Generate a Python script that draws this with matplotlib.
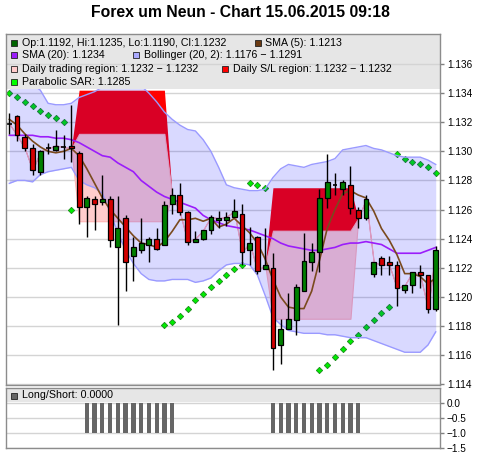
import numpy as np
import matplotlib
matplotlib.use("Agg")
import matplotlib.pyplot as plt
from matplotlib.patches import Rectangle
from matplotlib.ticker import FuncFormatter

plt.rcParams['font.family'] = ['Liberation Sans', 'DejaVu Sans']

TITLE = "Forex um Neun - Chart 15.06.2015 09:18"

# EUR/USD candles (oldest first)
opens = [1.1319, 1.1324, 1.1310, 1.1302, 1.1286, 1.1302, 1.1301, 1.1303, 1.1304, 1.1299,
         1.1262, 1.1267, 1.1265, 1.1267, 1.1234, 1.1254, 1.1228, 1.1232, 1.1236, 1.1240,
         1.1236, 1.1264, 1.1270, 1.1258, 1.1238, 1.1240, 1.1246, 1.1253, 1.1253, 1.1255,
         1.1257, 1.1232, 1.1241, 1.1219, 1.1220, 1.1167, 1.1178, 1.1184, 1.1204, 1.1224,
         1.1231, 1.1268, 1.1277, 1.1274, 1.1277, 1.1260, 1.1254, 1.1216, 1.1227, 1.1224,
         1.1222, 1.1205, 1.1208, 1.1217, 1.1215, 1.1192]
highs = [1.1326, 1.1325, 1.1312, 1.1305, 1.1301, 1.1306, 1.1315, 1.1311, 1.1332, 1.1300,
         1.1269, 1.1269, 1.1284, 1.1269, 1.1269, 1.1256, 1.1241, 1.1254, 1.1241, 1.1247,
         1.1266, 1.1275, 1.1278, 1.1259, 1.1245, 1.1246, 1.1256, 1.1259, 1.1258, 1.1267,
         1.1264, 1.1248, 1.1242, 1.1247, 1.1230, 1.1185, 1.1203, 1.1209, 1.1244, 1.1237,
         1.1274, 1.1298, 1.1285, 1.1280, 1.1290, 1.1262, 1.1270, 1.1224, 1.1228, 1.1228,
         1.1225, 1.1208, 1.1217, 1.1222, 1.1215, 1.1235]
lows = [1.1312, 1.1307, 1.1300, 1.1284, 1.1284, 1.1298, 1.1300, 1.1295, 1.1293, 1.1250,
        1.1241, 1.1246, 1.1263, 1.1234, 1.1181, 1.1204, 1.1211, 1.1230, 1.1224, 1.1232,
        1.1236, 1.1257, 1.1256, 1.1236, 1.1238, 1.1239, 1.1243, 1.1247, 1.1249, 1.1255,
        1.1222, 1.1222, 1.1216, 1.1219, 1.1150, 1.1154, 1.1178, 1.1174, 1.1204, 1.1218,
        1.1217, 1.1261, 1.1270, 1.1270, 1.1257, 1.1247, 1.1253, 1.1214, 1.1215, 1.1215,
        1.1194, 1.1203, 1.1203, 1.1206, 1.1189, 1.1190]
closes = [1.1319, 1.1311, 1.1302, 1.1287, 1.1300, 1.1302, 1.1304, 1.1303, 1.1302, 1.1262,
          1.1268, 1.1264, 1.1267, 1.1239, 1.1247, 1.1224, 1.1234, 1.1237, 1.1240, 1.1233,
          1.1263, 1.1270, 1.1258, 1.1238, 1.1240, 1.1246, 1.1255, 1.1254, 1.1255, 1.1259,
          1.1231, 1.1237, 1.1218, 1.1222, 1.1165, 1.1178, 1.1185, 1.1207, 1.1225, 1.1231,
          1.1268, 1.1279, 1.1277, 1.1279, 1.1261, 1.1254, 1.1267, 1.1224, 1.1222, 1.1222,
          1.1206, 1.1208, 1.1217, 1.1215, 1.1192, 1.1232]

sma5 = [1.1322, 1.1318, 1.1312, 1.1307, 1.1303, 1.1300, 1.1299, 1.1300, 1.1302, 1.1297,
        1.1288, 1.1278, 1.1268, 1.1260, 1.1254, 1.1248, 1.1242, 1.1237, 1.1236, 1.1234,
        1.1238, 1.1245, 1.1253, 1.1253, 1.1254, 1.1252, 1.1254, 1.1248, 1.1250, 1.1254,
        1.1249, 1.1244, 1.1237, 1.1226, 1.1212, 1.1200, 1.1193, 1.1192, 1.1192, 1.1204,
        1.1225, 1.1247, 1.1260, 1.1271, 1.1273, 1.1270, 1.1268, 1.1259, 1.1247, 1.1239,
        1.1229, 1.1216, 1.1216, 1.1214, 1.1209, 1.1213]
sma20 = [1.1311, 1.1311, 1.1311, 1.1311, 1.1310, 1.1310, 1.1309, 1.1309, 1.1308, 1.1306,
         1.1303, 1.1300, 1.1297, 1.1296, 1.1292, 1.1289, 1.1286, 1.1280, 1.1276, 1.1272,
         1.1269, 1.1267, 1.1265, 1.1263, 1.1261, 1.1256, 1.1253, 1.1251, 1.1249, 1.1248,
         1.1247, 1.1246, 1.1244, 1.1242, 1.1240, 1.1237, 1.1235, 1.1234, 1.1233, 1.1232,
         1.1232, 1.1233, 1.1234, 1.1236, 1.1237, 1.1237, 1.1238, 1.1237, 1.1236, 1.1233,
         1.1230, 1.1230, 1.1230, 1.1230, 1.1232, 1.1234]
boll_upper = [1.1348, 1.1348, 1.1347, 1.1346, 1.1342, 1.1333, 1.1332, 1.1332, 1.1333, 1.1337,
              1.1339, 1.1341, 1.1344, 1.1347, 1.1348, 1.1348, 1.1348, 1.1345, 1.1340, 1.1334,
              1.1327, 1.1322, 1.1318, 1.1315, 1.1314, 1.1308, 1.1300, 1.1289, 1.1277, 1.1275,
              1.1274, 1.1273, 1.1273, 1.1274, 1.1282, 1.1288, 1.1291, 1.1290, 1.1289, 1.1291,
              1.1292, 1.1293, 1.1295, 1.1301, 1.1302, 1.1303, 1.1304, 1.1302, 1.1301, 1.1299,
              1.1297, 1.1296, 1.1296, 1.1296, 1.1294, 1.1291]
boll_lower = [1.1278, 1.1280, 1.1280, 1.1279, 1.1284, 1.1286, 1.1287, 1.1288, 1.1289, 1.1280,
              1.1277, 1.1275, 1.1271, 1.1258, 1.1244, 1.1232, 1.1223, 1.1216, 1.1212, 1.1211,
              1.1211, 1.1212, 1.1212, 1.1212, 1.1210, 1.1211, 1.1213, 1.1218, 1.1222, 1.1223,
              1.1223, 1.1222, 1.1215, 1.1201, 1.1186, 1.1181, 1.1177, 1.1176, 1.1175, 1.1175,
              1.1175, 1.1174, 1.1174, 1.1173, 1.1172, 1.1172, 1.1172, 1.1170, 1.1168, 1.1166,
              1.1164, 1.1162, 1.1162, 1.1162, 1.1167, 1.1176]
sar = [1.1340, 1.1337, 1.1334, 1.1331, 1.1328, 1.1325, 1.1323, 1.1320, 1.1260, None,
       None, None, None, None, None, None, None, None, None, None,
       1.1181, 1.1183, 1.1187, 1.1192, 1.1198, 1.1202, 1.1207, 1.1211, 1.1215, 1.1219,
       1.1222, 1.1278, 1.1277, 1.1275, None, None, None, None, None, None,
       1.1150, 1.1153, 1.1159, 1.1164, 1.1170, 1.1174, 1.1179, 1.1184, 1.1189, 1.1193,
       1.1298, 1.1295, 1.1293, 1.1291, 1.1289, 1.1285]
long_short = [0, 0, 0, 0, 0, 0, 0, 0, 0, 0,
              -1, -1, -1, -1, -1, -1, -1, -1, -1, -1,
              -1, -1, 0, 0, 0, 0, 0, 0, 0, 0,
              0, 0, 0, 0, -1, -1, -1, -1, -1, -1,
              -1, -1, -1, -1, -1, -1, 0, 0, 0, 0,
              0, 0, 0, 0, 0, 0]

# daily sessions: first bar, last bar, S/L top, S/L bottom = trading top, trading bottom
sessions = [(9, 20, 1.1342, 1.1312, 1.1252),
            (34, 44, 1.1275, 1.12455, 1.1185)]

legend_rows = [
    ("Op:1.1192, Hi:1.1235, Lo:1.1190, Cl:1.1232", "#006400"),
    ("SMA (5): 1.1213", "#6b3a12"),
    ("SMA (20): 1.1234", "#9b1dfa"),
    ("Bollinger (20, 2): 1.1176 \u2212 1.1291", "#aaaaff"),
    ("Daily trading region: 1.1232 \u2212 1.1232", "#ffcccc"),
    ("Daily S/L region: 1.1232 \u2212 1.1232", "#ff0000"),
    ("Parabolic SAR: 1.1285", "#00ff00"),
]

# ---------------------------------------------------------------
W, H = 480, 457
fig = plt.figure(figsize=(W / 100, H / 100), dpi=100)
ax = fig.add_axes([6 / W, 1 - 385 / H, 434 / W, 351 / H])
axl = fig.add_axes([6 / W, 1 - 448.3 / H, 434 / W, 60 / H])

n = len(closes)
x = np.arange(n)
o = np.array(opens); hi = np.array(highs); lo = np.array(lows); c = np.array(closes)

# session regions collapse onto the close outside the session
sl_top = c.copy(); sl_bot = c.copy(); tr_top = c.copy(); tr_bot = c.copy()
for s, e, top, mid, bot in sessions:
    sl_top[s:e + 1] = top
    sl_bot[s:e + 1] = mid
    tr_top[s:e + 1] = mid
    tr_bot[s:e + 1] = bot

sar_arr = np.array([np.nan if v is None else v for v in sar])
ax.plot(x, sar_arr, ls='none', marker='D', ms=3.2, mfc='#00ee00', mec='#1a8a1a',
        mew=0.6, zorder=2.0)
ax.fill_between(x, sl_bot, sl_top, color='#ff0000', lw=0, zorder=2.1)
ax.fill_between(x, tr_bot, tr_top, facecolor='#ffcccc', edgecolor='#ffb4b4',
                lw=0.8, zorder=2.2)
ax.fill_between(x, boll_lower, boll_upper, color='#0000ff', alpha=0.15, lw=0, zorder=2.3)
ax.plot(x, boll_upper, color='#9a9aff', lw=1, zorder=2.35)
ax.plot(x, boll_lower, color='#9a9aff', lw=1, zorder=2.35)
ax.plot(x, sma20, color='#9b1dfa', lw=1.2, zorder=2.4)
ax.plot(x, sma5, color='#7a4a1e', lw=1.2, zorder=2.45)

# candles
ax.vlines(x, lo, hi, color='black', lw=1, zorder=2.8)
bw = 0.62
for i in range(n):
    if o[i] == c[i]:
        ax.hlines(o[i], i - bw / 2, i + bw / 2, color='black', lw=1.2, zorder=3)
        continue
    col = '#008000' if c[i] > o[i] else '#d40000'
    ax.add_patch(Rectangle((i - bw / 2, min(o[i], c[i])), bw, abs(c[i] - o[i]),
                           facecolor=col, edgecolor='black', lw=0.9, zorder=3))

ax.set_xlim(-0.43, 55.55)
ax.set_ylim(1.11395, 1.13806)
ax.set_yticks(np.round(np.arange(1.114, 1.1361, 0.002), 3))
ax.yaxis.set_major_formatter(FuncFormatter(lambda v, p: f"{v:.3f}"))

# legend panel inside the price axes, covering the plotted series
leg_bottom = (385 - 88.5) / 351
ax.add_patch(Rectangle((0, leg_bottom), 1, 1 - leg_bottom, transform=ax.transAxes,
                       facecolor='#e6e6e6', edgecolor='none', zorder=4))
ax.axhline(1.136, color='#d4d4d4', lw=1, zorder=4.1)
fs = 7.7
def px(xp, yp):
    return (xp - 6) / 434, (385 - yp) / 351

slots = [(14, 22, 43.3), (258, 265, 43.3), (14, 22, 55.2), (135.5, 144, 55.2),
         (14, 22, 69.2), (224.5, 233, 69.2), (14, 22, 82.4)]
for (label, col), (mx, tx, ty) in zip(legend_rows, slots):
    ax.plot(*px(mx, ty), marker='s', ms=5, mfc=col, mec='#222222', mew=0.6,
            transform=ax.transAxes, zorder=5, clip_on=False)
    ax.text(*px(tx, ty), label, transform=ax.transAxes, fontsize=fs,
            va='center', ha='left', zorder=5)

# long/short panel
axl.bar(x, long_short, width=0.55, color='#666666', zorder=2)
axl.set_xlim(-0.43, 55.55)
axl.set_ylim(-1.5, 0.5)
axl.set_yticks([0.0, -0.5, -1.0, -1.5])
axl.yaxis.set_major_formatter(FuncFormatter(lambda v, p: f"{v:.1f}".replace('-', '\u2212')))
axl.add_patch(Rectangle((0, (448.3 - 402) / 60), 1, 1, transform=axl.transAxes,
                        facecolor='#e6e6e6', edgecolor='none', zorder=1.2))
axl.plot(8 / 434, (448.3 - 395.5) / 60, marker='s', ms=5, mfc='#666666', mec='#222222',
         mew=0.6, transform=axl.transAxes, zorder=5, clip_on=False)
axl.text(16 / 434, (448.3 - 395.5) / 60, "Long/Short: 0.0000", transform=axl.transAxes,
         fontsize=fs, va='center', ha='left', zorder=5)

for a in (ax, axl):
    a.yaxis.tick_right()
    a.set_xticks([])
    a.yaxis.grid(True, color='#d4d4d4', lw=1, zorder=1.5)
    a.set_axisbelow('line')
    a.tick_params(axis='y', direction='out', length=3, width=1, color='#808080',
                  labelsize=7.2, pad=2)
    for sp in a.spines.values():
        sp.set_color('#8c8c8c')
        sp.set_linewidth(1)
        sp.set_zorder(6)

fig.text(0.5, 1 - 12.5 / H, TITLE, ha='center', va='center', fontsize=11.3,
         fontweight='bold')

fig.savefig("out.png", dpi=100)
